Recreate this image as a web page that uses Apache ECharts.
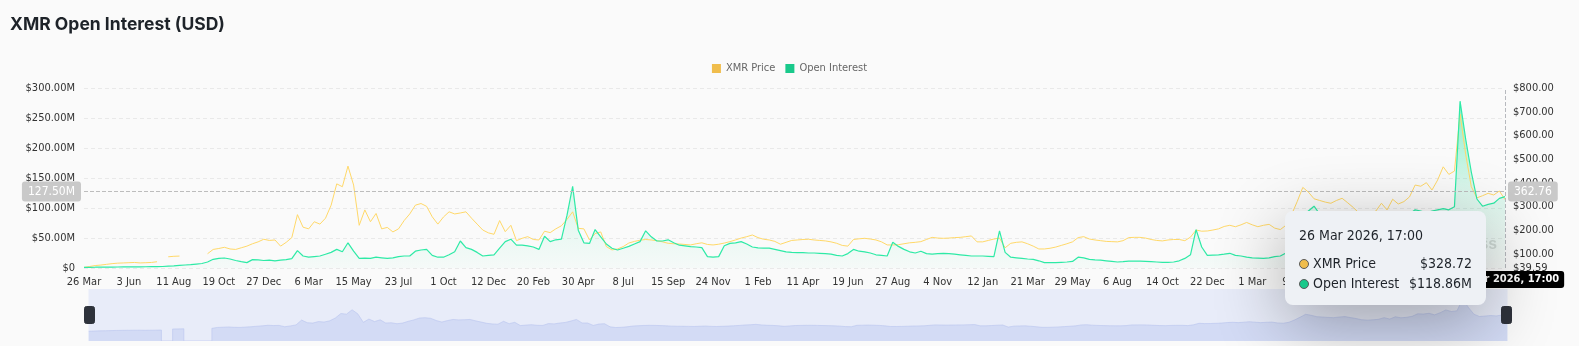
<!DOCTYPE html>
<html>
<head>
<meta charset="utf-8">
<title>XMR Open Interest (USD)</title>
<script src="https://cdn.jsdelivr.net/npm/echarts@6/dist/echarts.min.js"></script>
<style>
  html, body { margin: 0; padding: 0; background: #fafafa; }
  #chart { width: 1579px; height: 346px; }
</style>
</head>
<body>
<div id="chart"></div>
<script>
// tick dates on the x axis, one label every 8 points
const tickDates = [
  '2020-03-26', '2020-06-03', '2020-08-11', '2020-10-19', '2020-12-27', '2021-03-06', '2021-05-15', '2021-07-23',
  '2021-10-01', '2021-12-12', '2022-02-20', '2022-04-30', '2022-07-08', '2022-09-15', '2022-11-24', '2023-02-01',
  '2023-04-11', '2023-06-19', '2023-08-27', '2023-11-04', '2024-01-12', '2024-03-21', '2024-05-29', '2024-08-06',
  '2024-10-14', '2024-12-22', '2025-03-01', '2025-05-09', '2025-07-17', '2025-09-24', '2025-12-02', '2026-02-09'
];
const endDate = '2026-03-26';
const stepsPerTick = 8;
const lastSteps = 5;

// XMR price (USD), right axis
const priceValues = [
  42, 46, 50, 52, 55, 58, 60, 61,
  62, 63, 61, 62, 63, 66, null, 87,
  89, 90, null, null, null, null, 100, 118,
  122, 127, 120, 118, 125, 132, 142, 150,
  161, 156, 158, 132, 148, 168, 265, 212,
  205, 235, 225, 250, 305, 395, 383, 470,
  390, 220, 285, 235, 270, 205, 211, 192,
  205, 240, 268, 305, 312, 300, 256, 225,
  255, 277, 268, 272, 277, 250, 225, 200,
  188, 182, 240, 193, 220, 155, 165, 172,
  160, 158, 195, 189, 205, 218, 245, 277,
  207, 205, 158, 185, 192, 130, 116, 120,
  130, 145, 152, 157, 160, 158, 155, 150,
  144, 142, 141, 139, 137, 142, 146, 139,
  137, 140, 145, 151, 158, 166, 172, 179,
  168, 161, 158, 152, 140, 148, 156, 158,
  160, 161, 158, 156, 154, 150, 144, 135,
  132, 160, 163, 165, 162, 158, 150, 137,
  137, 138, 142, 146, 148, 151, 160, 169,
  166, 165, 166, 168, 169, 172, 175, 150,
  150, 156, 162, 166, 125, 144, 148, 150,
  142, 132, 120, 120, 123, 128, 135, 142,
  150, 168, 172, 162, 158, 155, 152, 151,
  150, 155, 168, 169, 169, 166, 160, 156,
  154, 158, 160, 160, 155, 170, 200, 195,
  196, 200, 205, 215, 220, 214, 222, 232,
  222, 214, 220, 224, 208, 202, 220, 265,
  320, 380, 360, 332, 325, 318, 313, 325,
  334, 315, 295, 272, 263, 270, 280, 313,
  285, 330, 310, 320, 340, 390, 385, 400,
  369, 411, 467, 435, 449, 690, 520, 383,
  336, 345, 355, 348, 365, 328.72
];

// open interest (million USD), left axis
const oiValues = [
  1, 1.2, 1.3, 1.5, 1.5, 1.6, 1.7, 1.8,
  1.9, 2, 2, 2.1, 2.2, 2.3, 2.5, 3,
  3.5, 4.5, 5, 5.5, 6.5, 7.5, 10, 14.5,
  16, 16.7, 15, 12.5, 10.5, 9, 14, 13.5,
  12.5, 13, 12, 13, 14, 15.5, 29, 20,
  18, 19, 20, 23, 26, 31, 27, 42,
  28, 16, 16.5, 16, 18, 17, 16, 17,
  19, 20, 20, 28, 30, 31, 21, 18,
  18, 22, 27, 45, 34, 31, 26, 20,
  21, 22, 33, 44, 48, 38, 38, 37,
  35, 31, 53, 44, 47, 48, 88, 136,
  63, 42, 41, 64, 52, 40, 33, 30,
  33, 36, 40, 44, 62, 52, 45, 45,
  47, 42, 38, 37, 35.5, 35, 34, 19,
  18, 19, 37, 41, 42, 44, 40, 35,
  33.5, 33, 33, 31, 29, 27, 26, 25.5,
  25.5, 25, 25, 24.5, 24, 23, 21, 20,
  24, 31, 28, 27, 25, 22, 21, 20,
  43, 36, 31, 27, 25, 28, 24, 23,
  24, 24.5, 24, 23, 22, 21, 20, 20,
  20, 19.5, 19, 62, 26, 18, 17, 16,
  15, 14.5, 12, 9, 9, 9, 9.5, 10,
  11, 18, 17, 14.5, 13.5, 13, 12, 11,
  10, 10.5, 11.5, 11.7, 11.5, 11, 10.5, 10,
  9.5, 9.5, 10, 12, 16, 22, 64, 35,
  21, 21.5, 22, 23, 24.5, 21, 20, 18,
  17, 16.5, 16, 17, 19, 20, 25, 45,
  70, 85, 95, 103, 90, 80, 75, 78,
  80, 72, 65, 60, 58, 60, 65, 72,
  70, 78, 80, 85, 90, 97, 95, 92,
  95, 97, 99, 97, 102, 278, 215, 160,
  115, 103, 106, 108, 116, 118.86
];

const MONTHS = ['Jan', 'Feb', 'Mar', 'Apr', 'May', 'Jun', 'Jul', 'Aug', 'Sep', 'Oct', 'Nov', 'Dec'];
const NARROW = '"DejaVu Sans Condensed", "Liberation Sans Narrow", Roboto, sans-serif';

function fmtDate(t) {
  const d = new Date(t);
  return d.getUTCDate() + ' ' + MONTHS[d.getUTCMonth()] + ' ' + d.getUTCFullYear() + ', 17:00';
}

// build the category list between the tick dates
const categories = [];
const allTicks = tickDates.concat([endDate]);
for (let k = 0; k < tickDates.length; k++) {
  const a = Date.parse(allTicks[k]);
  const b = Date.parse(allTicks[k + 1]);
  const n = k === tickDates.length - 1 ? lastSteps : stepsPerTick;
  for (let j = 0; j < n; j++) {
    const day = Math.round(j * (b - a) / n / 864e5);
    categories.push(fmtDate(a + day * 864e5));
  }
}
categories.push(fmtDate(Date.parse(endDate)));

const chart = echarts.init(document.getElementById('chart'));

function marker(color) {
  return '<span style="display:inline-block;width:8px;height:8px;border-radius:50%;background:' + color +
    ';border:1px solid #5b5b5b;margin-right:4px;vertical-align:-1px"></span>';
}

chart.setOption({
  backgroundColor: '#fafafa',
  animation: false,
  title: {
    text: 'XMR Open Interest (USD)',
    left: 5,
    top: 11,
    textStyle: { fontFamily: 'Inter', fontWeight: 700, fontSize: 17.5, color: '#1e2329' }
  },
  legend: {
    top: 58,
    left: 'center',
    icon: 'rect',
    itemWidth: 9,
    itemHeight: 9,
    itemGap: 10,
    textStyle: { color: '#666', fontSize: 11, fontFamily: NARROW },
    data: ['XMR Price', 'Open Interest']
  },
  grid: { left: 84, right: 74, top: 88, bottom: 78 },
  tooltip: {
    trigger: 'axis',
    alwaysShowContent: true,
    axisPointer: {
      type: 'cross',
      crossStyle: { color: '#bdbdbd', type: 'dashed', width: 1 }
    },
    position: [1285, 211],
    backgroundColor: '#eef1f5',
    borderWidth: 0,
    padding: [14, 14, 12, 14],
    extraCssText: 'border-radius:8px;box-shadow:0 18px 70px rgba(0,0,0,0.32);',
    formatter: function (params) {
      let html = '<div style="width:173px;font-family:' + NARROW.replace(/"/g, "'") + ';font-size:14px;color:#1e2329">';
      html += '<div style="line-height:20px;margin-bottom:8px">' + params[0].axisValue + '</div>';
      params.forEach(function (p) {
        const v = p.seriesIndex === 0 ? '$' + Number(p.value).toFixed(2) : '$' + Number(p.value).toFixed(2) + 'M';
        html += '<div style="display:flex;justify-content:space-between;line-height:20px">' +
          '<span>' + marker(p.color) + p.seriesName + '</span><span>' + v + '</span></div>';
      });
      return html + '</div>';
    }
  },
  xAxis: {
    type: 'category',
    data: categories,
    boundaryGap: false,
    axisLine: { show: false },
    axisTick: { show: false },
    axisLabel: {
      interval: stepsPerTick - 1,
      color: '#333',
      fontSize: 11,
      fontFamily: NARROW,
      margin: 9,
      formatter: function (v) { return v.split(' ').slice(0, 2).join(' '); }
    },
    axisPointer: {
      label: { backgroundColor: '#000', color: '#fff', fontWeight: 'bold', fontSize: 11, fontFamily: NARROW, padding: [3, 5] }
    }
  },
  yAxis: [
    {
      type: 'value',
      position: 'left',
      min: 0,
      max: 300,
      interval: 50,
      axisLine: { show: false },
      axisTick: { show: false },
      axisLabel: {
        color: '#333',
        fontSize: 11,
        fontFamily: NARROW,
        margin: 9,
        formatter: function (v) { return v === 0 ? '$0' : '$' + v.toFixed(2) + 'M'; }
      },
      splitLine: { lineStyle: { color: '#e9e9e9', type: [4, 3] } },
      axisPointer: {
        label: {
          backgroundColor: '#c9c9c9', color: '#fff', fontSize: 12, fontFamily: NARROW, padding: [4, 6],
          formatter: function (p) { return p.value.toFixed(2) + 'M'; }
        }
      }
    },
    {
      type: 'value',
      position: 'right',
      min: 39.59,
      max: 800,
      splitNumber: 8,
      axisLine: { show: false },
      axisTick: { show: false },
      splitLine: { show: false },
      axisLabel: {
        color: '#333',
        fontSize: 11,
        fontFamily: NARROW,
        margin: 8,
        formatter: function (v) { return '$' + v.toFixed(2); }
      },
      axisPointer: {
        label: {
          backgroundColor: '#c9c9c9', color: '#fff', fontSize: 12, fontFamily: NARROW, padding: [4, 6],
          formatter: function (p) { return p.value.toFixed(2); }
        }
      }
    }
  ],
  dataZoom: [{
    type: 'slider',
    xAxisIndex: 0,
    start: 0,
    end: 100,
    left: 86,
    right: 74,
    bottom: 5,
    height: 52,
    showDataShadow: true,
    showDetail: false,
    brushSelect: false,
    moveHandleSize: 0,
    borderColor: 'transparent',
    backgroundColor: '#e8ecf9',
    fillerColor: 'rgba(0,0,0,0)',
    handleIcon: 'path://M2,0 h6 a2,2 0 0 1 2,2 v13 a2,2 0 0 1 -2,2 h-6 a2,2 0 0 1 -2,-2 v-13 a2,2 0 0 1 2,-2 Z',
    handleSize: 17,
    handleStyle: { color: '#2e323b', borderColor: '#2e323b' },
    dataBackground: {
      lineStyle: { color: '#b8c4ef', width: 0.6 },
      areaStyle: { color: '#d3dbf5', opacity: 1 }
    },
    selectedDataBackground: {
      lineStyle: { color: '#b8c4ef', width: 0.6 },
      areaStyle: { color: '#d3dbf5', opacity: 1 }
    }
  }],
  graphic: [{
    type: 'text',
    right: 82,
    top: 236,
    silent: true,
    style: { text: 'coinglass', fill: '#d9d9d9', fontSize: 16, fontFamily: 'Inter', fontWeight: 600 }
  }],
  series: [
    {
      name: 'XMR Price',
      type: 'line',
      yAxisIndex: 1,
      data: priceValues,
      symbol: 'none',
      itemStyle: { color: '#f0bd4c' },
      lineStyle: { color: '#f8c560', width: 1 }
    },
    {
      name: 'Open Interest',
      type: 'line',
      yAxisIndex: 0,
      data: oiValues,
      symbol: 'none',
      itemStyle: { color: '#19c98b' },
      lineStyle: { color: '#2ad597', width: 1.2 },
      areaStyle: {
        color: new echarts.graphic.LinearGradient(0, 0, 0, 1, [
          { offset: 0, color: 'rgba(31,207,143,0.75)' },
          { offset: 0.5, color: 'rgba(31,207,143,0.22)' },
          { offset: 1, color: 'rgba(31,207,143,0.03)' }
        ])
      }
    }
  ]
});

chart.dispatchAction({ type: 'showTip', x: 1504, y: 191.5 });
</script>
</body>
</html>
